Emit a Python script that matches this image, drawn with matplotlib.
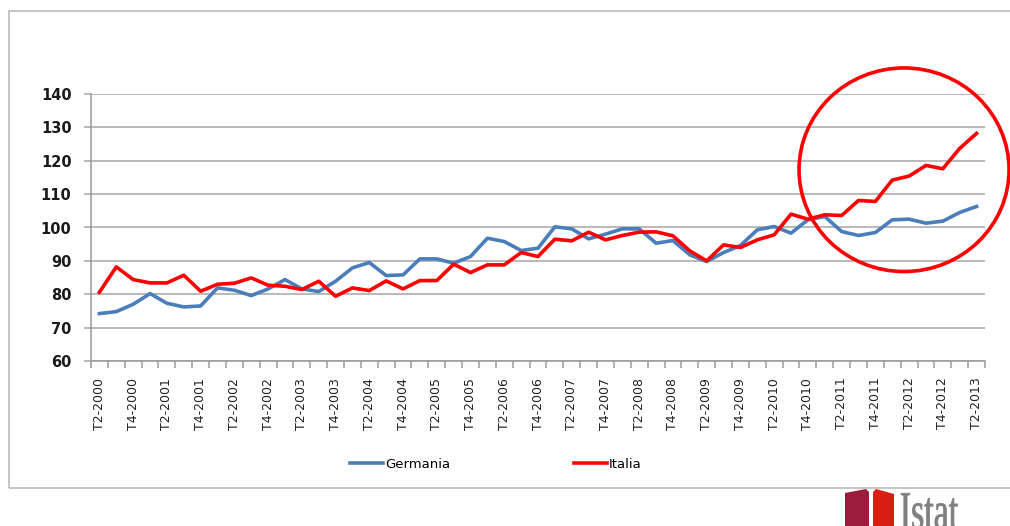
import matplotlib
matplotlib.use('Agg')
import matplotlib.pyplot as plt
from matplotlib.patches import Ellipse, Rectangle, Polygon, PathPatch
from matplotlib.textpath import TextPath
from matplotlib.font_manager import FontProperties
from matplotlib.transforms import Affine2D

# trimestri: T2-2000 ... T2-2013
trimestri = ['T%d-%d' % (q, y) for y in range(2000, 2014) for q in range(1, 5)][1:54]

germania = [74.2, 74.8, 77.0, 80.2, 77.3, 76.2, 76.5, 81.9, 81.2, 79.6,
            81.6, 84.4, 81.6, 80.8, 83.9, 87.9, 89.5, 85.6, 85.8, 90.6,
            90.6, 89.3, 91.3, 96.8, 95.8, 93.1, 93.8, 100.2, 99.6, 96.6,
            98.0, 99.6, 99.6, 95.3, 96.1, 91.8, 89.8, 92.5, 94.6, 99.3,
            100.3, 98.3, 102.3, 103.3, 98.8, 97.6, 98.5, 102.3, 102.5, 101.3,
            101.9, 104.5, 106.3]

italia = [80.6, 88.2, 84.4, 83.4, 83.4, 85.7, 80.9, 83.0, 83.3, 84.9,
          82.7, 82.4, 81.4, 83.9, 79.4, 81.9, 81.1, 84.0, 81.6, 84.1,
          84.1, 89.0, 86.5, 88.8, 88.8, 92.5, 91.3, 96.5, 96.0, 98.6,
          96.3, 97.6, 98.6, 98.7, 97.5, 93.0, 90.0, 94.8, 94.0, 96.3,
          97.8, 104.0, 102.5, 103.8, 103.6, 108.1, 107.8, 114.2, 115.4, 118.6,
          117.6, 123.7, 128.2]

yticks = [60, 70, 80, 90, 100, 110, 120, 130, 140]

W, H = 1010, 526
fig = plt.figure(figsize=(W / 100, H / 100), dpi=100)
fig.patch.set_facecolor('white')
px = Affine2D().scale(1 / W, 1 / H) + fig.transFigure  # coordinate in pixel (dal basso)

# cornice grigia intorno al grafico
fig.patches.append(Rectangle((9, H - 488), 1100, 488 - 11, transform=px,
                             fill=False, edgecolor='#c0c0c0', linewidth=1.3))

ax = fig.add_axes([91 / W, 1 - 361 / H, (985 - 91) / W, (361 - 94) / H])
x = list(range(len(trimestri)))
ax.plot(x, germania, color='#4a7ebb', linewidth=2.6, label='Germania',
        solid_joinstyle='round', zorder=3)
ax.plot(x, italia, color='#ff0000', linewidth=2.6, label='Italia',
        solid_joinstyle='round', zorder=4)

ax.set_xlim(-0.5, len(trimestri) - 0.5)
ax.set_ylim(60, 140)
ax.set_yticks(yticks)
ax.set_yticklabels([str(v) for v in yticks], fontsize=10.5,
                   fontweight='bold', color='#1a1a1a')
ax.yaxis.grid(True, color='#a6a6a6', linewidth=1.1)
ax.set_axisbelow(True)

ax.set_xticks(x[::2])
ax.set_xticklabels(trimestri[::2], rotation=90, fontsize=9, color='#222222')
ax.set_xticks([i - 0.5 for i in range(len(trimestri) + 1)], minor=True)
ax.tick_params(axis='x', which='major', length=0, pad=12)
ax.tick_params(axis='x', which='minor', length=5, color='#999999', width=1.1)
ax.tick_params(axis='y', length=5, color='#a6a6a6', width=1.1, pad=9)

for s in ['top', 'right']:
    ax.spines[s].set_visible(False)
for s in ['left', 'bottom']:
    ax.spines[s].set_color('#999999')
    ax.spines[s].set_linewidth(1.1)

# cerchio rosso di evidenziazione
ax.add_patch(Ellipse((47.7, 117.3), 12.45, 61, fill=False, edgecolor='#ff0000',
                     linewidth=2.6, clip_on=False, zorder=5))

ax.legend(loc='center', bbox_to_anchor=(496 / W, 1 - 464 / H),
          bbox_transform=fig.transFigure, ncol=2, frameon=False,
          fontsize=9.5, handlelength=2.5, handletextpad=0.2, columnspacing=9.3)

# logo Istat
fig.patches.append(Polygon([(845, H - 493), (866, H - 489), (869, H - 492),
                            (869, -5), (845, -5)], closed=True, transform=px,
                           facecolor='#9b1b3a', edgecolor='none'))
fig.patches.append(Polygon([(873, H - 492), (876, H - 489), (894, H - 494),
                            (894, -5), (873, -5)], closed=True, transform=px,
                           facecolor='#d81e12', edgecolor='none'))
tp = TextPath((0, 0), 'Istat', size=1, prop=FontProperties(family='Liberation Serif'))
ext = tp.get_extents()
tr = Affine2D().translate(-ext.x0, 0).scale(57 / ext.width, 36 / 0.66).translate(901, H - 529)
fig.patches.append(PathPatch(tr.transform_path(tp), facecolor='#808080',
                             edgecolor='#808080', linewidth=0.6, transform=px))

fig.savefig('out.png', dpi=100)
